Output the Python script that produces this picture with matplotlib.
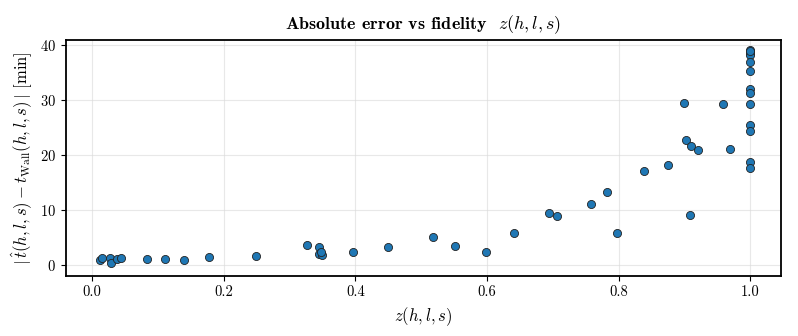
import matplotlib
matplotlib.use("Agg")
import matplotlib.pyplot as plt

plt.rcParams['font.family'] = ['cmr10', 'DejaVu Serif']
plt.rcParams['mathtext.fontset'] = 'cm'
plt.rcParams['axes.formatter.use_mathtext'] = True

fidelity = [0.011, 0.015, 0.027, 0.029, 0.037, 0.043, 0.083, 0.111, 0.139, 0.178,
            0.249, 0.327, 0.344, 0.345, 0.349, 0.347, 0.396, 0.450, 0.518, 0.551,
            0.599, 0.641, 0.695, 0.707, 0.758, 0.783, 0.798, 0.839, 0.875, 0.899,
            0.902, 0.910, 0.921, 0.909, 0.959, 0.970,
            1.0, 1.0, 1.0, 1.0, 1.0, 1.0, 1.0, 1.0, 1.0, 1.0, 1.0, 1.0, 1.0]
abs_error = [1.0, 1.3, 1.3, 0.4, 1.1, 1.2, 1.1, 1.1, 0.9, 1.55,
             1.7, 3.6, 3.3, 2.0, 1.85, 2.3, 2.4, 3.3, 5.1, 3.5,
             2.3, 5.75, 9.4, 9.0, 11.05, 13.3, 5.8, 17.2, 18.3, 29.5,
             22.8, 21.6, 20.9, 9.2, 29.4, 21.1,
             39.2, 38.7, 38.2, 37.0, 35.3, 32.0, 31.4, 29.3, 25.6, 24.4, 18.7, 17.6, 39.0]

fig = plt.figure(figsize=(7.98, 3.36), dpi=100)
ax = fig.add_axes([0.0827, 0.1786, 0.896, 0.7024])
ax.scatter(fidelity, abs_error, s=34, color='#1f77b4', edgecolor='#222222',
           linewidth=0.6, zorder=3)
ax.grid(True, color='#d9d9d9', alpha=0.6, linewidth=0.8)
ax.set_axisbelow(True)
for sp in ax.spines.values():
    sp.set_linewidth(1.3)
ax.set_xlim(-0.04, 1.047)
ax.set_ylim(-2.0, 41.0)
ax.set_xticks([0.0, 0.2, 0.4, 0.6, 0.8, 1.0])
ax.set_xticklabels(['0.0', '0.2', '0.4', '0.6', '0.8', '1.0'])
ax.set_yticks([0, 10, 20, 30, 40])
ax.tick_params(labelsize=10.5)
ax.set_xlabel(r'$z(h,l,s)$', fontsize=12)
ax.set_ylabel(r'$|\,\hat{t}(h,l,s) - t_{\mathrm{Wall}}(h,l,s)\,|$ [min]', fontsize=12)
ax.set_title(r'Absolute error vs fidelity  $z(h,l,s)$', fontsize=13,
             family=['cmb10', 'DejaVu Serif'], pad=8)
fig.savefig('out.png', dpi=100)
